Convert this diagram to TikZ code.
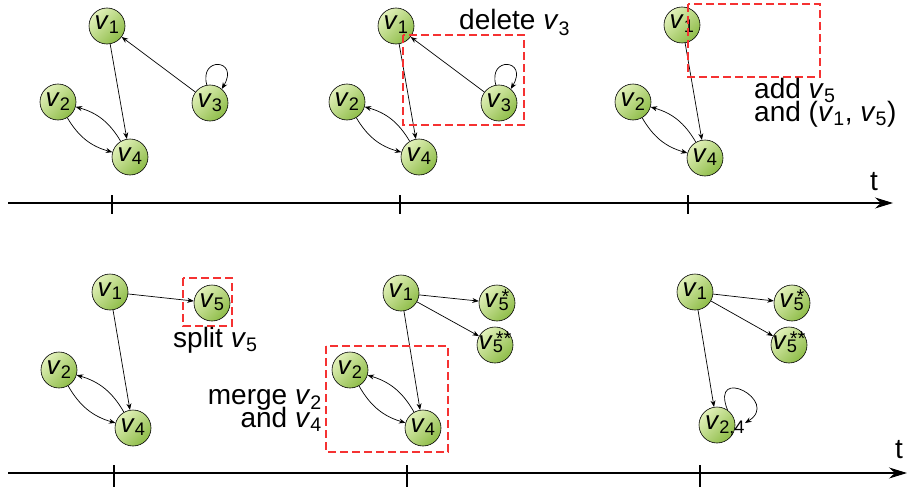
\documentclass[tikz,border=0pt]{standalone}
\usepackage{amsmath}
\usepackage{fontspec}
\setmainfont{Liberation Sans}
\usetikzlibrary{arrows.meta}

\definecolor{ballhi}{RGB}{226,241,186}
\definecolor{balllo}{RGB}{142,188,72}
\definecolor{markred}{RGB}{245,50,50}

% italic v with an upright sans index
\newcommand\vi[1]{\textit{v}$_{\text{#1}}$}
% same, with stars stacked over the index
\newcommand\vs[2]{\textit{v}\rlap{$_{\text{#1}}$}\hspace{3pt}\raisebox{4pt}{\fontsize{20}{20}\selectfont #2}}
% vertex label, allowed to spill over the disc
\newcommand\vlab[1]{\makebox[0pt]{\vi{#1}}}
% caption font with tight line spacing
\newcommand\capfont{\fontsize{28}{23}\selectfont\lineskiplimit=-50pt\relax}

\begin{document}
\begin{tikzpicture}[x=1pt,y=1pt,
  vert/.style={circle, draw=black, line width=0.6pt, minimum size=36pt,
    inner sep=0pt, top color=ballhi, bottom color=balllo, shading angle=45,
    text height=9pt, text depth=1pt, font=\fontsize{26}{26}\selectfont},
  link/.style={line width=0.7pt, -{Stealth[length=6.5pt,width=5pt]}},
  redbox/.style={draw=markred, line width=1.3pt, dash pattern=on 8pt off 4pt},
  lbl/.style={font=\capfont, inner sep=0pt},
  timeaxis/.style={line width=1.1pt, -{Stealth[length=18pt,width=11pt]}},
  tickmark/.style={line width=1.1pt}
]
\useasboundingbox (0,0) rectangle (907,-487);

% ---------- upper time line ----------
\coordinate (ta0) at (8,-203);
\coordinate (ta1) at (893,-203);
\draw[timeaxis] (ta0) -- (ta1);
\foreach \x in {112,400,688} \draw[tickmark] (\x,-195) -- (\x,-214);
\node[lbl, anchor=base] (tt) at (874,-190) {t};

% snapshot 1
\node[vert] (a1) at (107,-26) {\vlab1};
\node[vert] (a2) at (58,-102) {\vlab2};
\node[vert] (a3) at (210,-103) {\vlab3};
\node[vert] (a4) at (130,-157) {\vlab4};
\draw[link] (a3) -- (a1);
\draw[link] (a1) -- (a4);
\draw[link] (a2) to[bend right=22] (a4);
\draw[link] (a4) to[bend right=22] (a2);
\draw[link] (a3.100) .. controls +(-8,29) and +(18,30) .. (a3.50);

% snapshot 2
\node[vert] (b1) at (396,-26) {\vlab1};
\node[vert] (b2) at (347,-102) {\vlab2};
\node[vert] (b3) at (499,-103) {\vlab3};
\node[vert] (b4) at (419,-157) {\vlab4};
\draw[link] (b3) -- (b1);
\draw[link] (b1) -- (b4);
\draw[link] (b2) to[bend right=22] (b4);
\draw[link] (b4) to[bend right=22] (b2);
\draw[link] (b3.100) .. controls +(-8,29) and +(18,30) .. (b3.50);
\draw[redbox] (403,-35) rectangle (524,-125);
\node[lbl, anchor=base west] (del) at (459,-30) {delete \vi3};

% snapshot 3
\node[vert] (c1) at (682,-25) {\vlab1};
\node[vert] (c2) at (633,-102) {\vlab2};
\node[vert] (c4) at (705,-158) {\vlab4};
\draw[link] (c1) -- (c4);
\draw[link] (c2) to[bend right=22] (c4);
\draw[link] (c4) to[bend right=22] (c2);
\draw[redbox] (688,-4) rectangle (820,-77);
\node[lbl, anchor=base west, align=left] (add) at (754,-121)
  {add \vi5\\and (\vi1, \vi5)};

% ---------- lower time line ----------
\coordinate (tb0) at (8,-473);
\coordinate (tb1) at (907,-473);
\draw[timeaxis] (tb0) -- (tb1);
\foreach \x in {114,407,700} \draw[tickmark] (\x,-465) -- (\x,-487);
\node[lbl, anchor=base] (tb) at (899,-458) {t};

% snapshot 4
\node[vert] (d1) at (110,-292) {\vlab1};
\node[vert] (d5) at (212,-303) {\vlab5};
\node[vert] (d2) at (59,-370) {\vlab2};
\node[vert] (d4) at (133,-428) {\vlab4};
\draw[link] (d1) -- (d5);
\draw[link] (d1) -- (d4);
\draw[link] (d2) to[bend right=22] (d4);
\draw[link] (d4) to[bend right=22] (d2);
\draw[redbox] (183,-278) rectangle (232,-326);
\node[lbl, anchor=base west] (split) at (173,-347) {split \vi5};

% snapshot 5
\node[vert] (e1) at (401,-293) {\vlab1};
\node[vert] (e5a) at (497,-303) {\makebox[0pt]{\vs5{*}}};
\node[vert] (e5b) at (495,-345) {\makebox[0pt]{\vs5{**}}};
\node[vert] (e2) at (350,-370) {\vlab2};
\node[vert] (e4) at (423,-428) {\vlab4};
\draw[link] (e1) -- (e5a);
\draw[link] (e1) -- (e5b);
\draw[link] (e1) -- (e4);
\draw[link] (e2) to[bend right=22] (e4);
\draw[link] (e4) to[bend right=22] (e2);
\draw[redbox] (326,-346) rectangle (448,-452);
\node[lbl, anchor=base east, align=right] (merge) at (322,-427)
  {merge \vi2\\and \vi4};

% snapshot 6
\node[vert] (f1) at (695,-292) {\vlab1};
\node[vert] (f5a) at (792,-303) {\makebox[0pt]{\vs5{*}}};
\node[vert] (f5b) at (789,-345) {\makebox[0pt]{\vs5{**}}};
\node[vert] (f24) at (717,-425) {\makebox[24pt][l]{\vi{2,4}}};
\draw[link] (f1) -- (f5a);
\draw[link] (f1) -- (f5b);
\draw[link] (f1) -- (f24);
\coordinate (f24end) at (745,-423);
\draw[link] (f24.55) .. controls +(-18,46) and +(36,22) .. (f24end);
\end{tikzpicture}
\end{document}
